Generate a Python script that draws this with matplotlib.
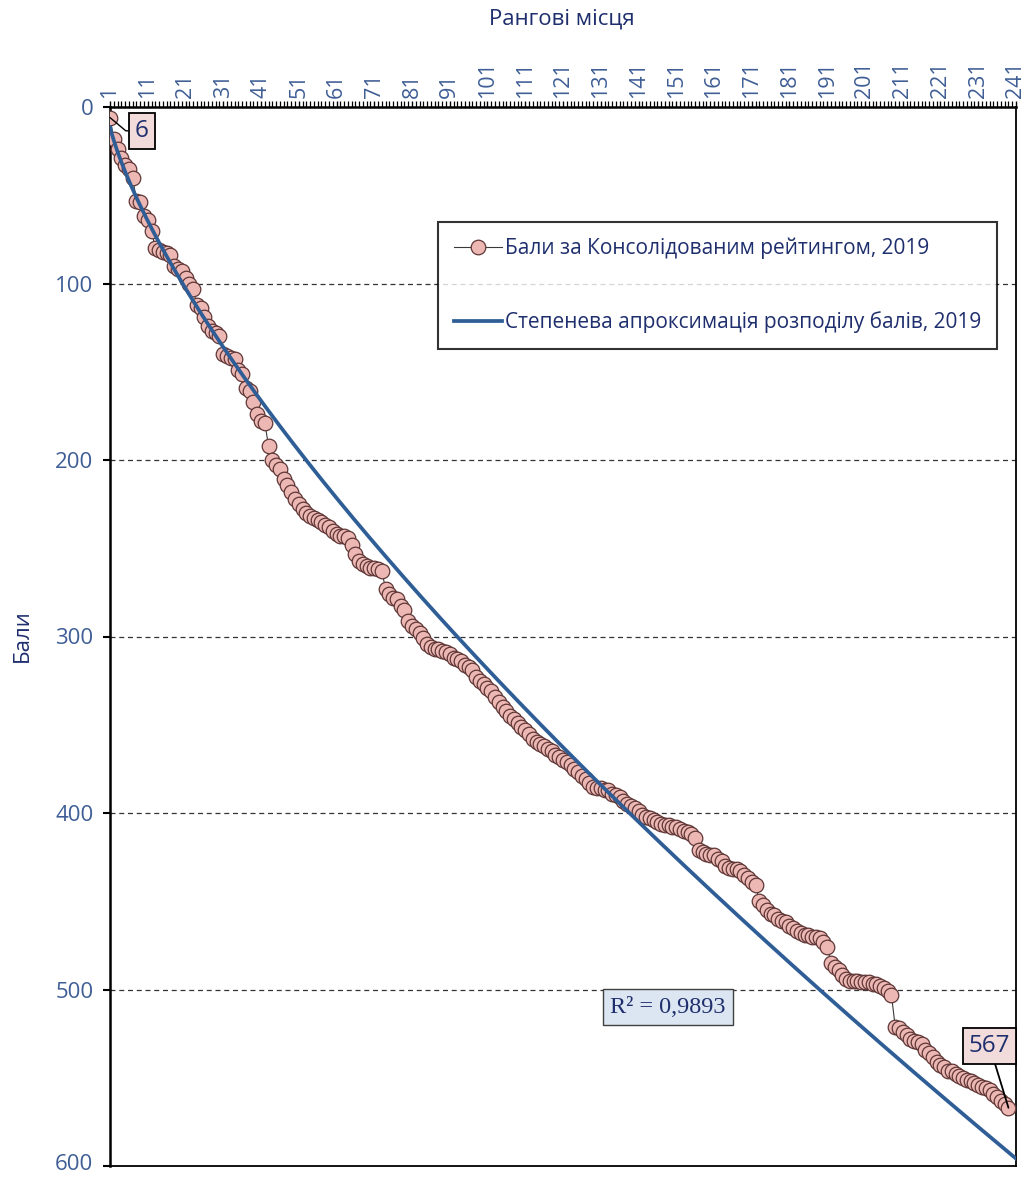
import numpy as np
import matplotlib
matplotlib.use("Agg")
import matplotlib.pyplot as plt
import matplotlib.transforms as mtransforms
from matplotlib.ticker import FixedLocator

# ---------------- data ----------------
scores = [
    6, 18, 24, 29, 33, 35, 40, 53, 54, 62,
    64, 70, 80, 81, 82, 83, 84, 90, 92, 93,
    97, 100, 103, 112, 114, 119, 124, 127, 128, 130,
    140, 141, 142, 143, 149, 151, 159, 161, 167, 174,
    178, 179, 192, 200, 203,
    205, 211, 214, 218, 222, 225, 228, 230, 232, 233,
    234, 235, 237, 238, 240, 242, 243, 243, 244, 248,
    253, 257, 259, 260, 261, 261, 262, 263, 273, 276,
    278, 279, 283, 285, 291, 294, 296, 298, 301, 304,
    306, 307, 307, 308, 309, 310, 312, 313, 314, 316,
    317, 319, 323, 325, 327, 329, 331,
    334, 337, 340, 342, 345, 347, 349, 351, 353, 355,
    358, 360, 361, 362, 364, 365, 367, 368, 370, 371,
    373, 375, 377, 379, 381, 383, 385, 386, 386, 387,
    387, 389, 390, 391, 393, 395, 396, 397, 399, 401,
    402, 403, 404, 405, 406, 407, 407, 408, 408, 409,
    410,
    411, 412, 414, 421, 422, 423, 424, 424, 426, 427,
    430, 431, 432, 432, 433, 435, 437, 439, 441, 450,
    452, 455, 457, 458, 460, 461, 462, 464, 465, 467,
    468, 469, 469, 470, 470, 471, 473, 476, 485, 487,
    489, 492, 494, 495,
    495, 495, 496, 496, 496, 497, 497, 498, 499, 501,
    503, 521, 522, 524, 526, 528, 529, 530, 531, 534,
    536, 538, 541, 543, 544, 546, 546, 548, 549, 550,
    551, 552, 553, 554, 555, 556, 557, 559, 561, 563,
    565, 567,
]
ranks = list(range(1, len(scores) + 1))
x_max_rank = 241
x_tick_labels = [str(v) for v in range(1, 242, 10)]
y_ticks = [0, 100, 200, 300, 400, 500, 600]
series_label = "Бали за Консолідованим рейтингом, 2019"
trend_label = "Степенева апроксимація розподілу балів, 2019"
r2_text = "R² = 0,9893"
x_title = "Рангові місця"
y_title = "Бали"

# ---------------- style ----------------
FONT = ["Open Sans", "DejaVu Sans"]
plt.rcParams["font.family"] = FONT
TICK_COLOR = "#3F5E95"
NAVY = "#1F2F6E"
MARKER_FILL = "#EDB8B4"
MARKER_EDGE = "#5E3636"
TREND = "#2F5E97"

W, H = 1030, 1178
fig = plt.figure(figsize=(W / 100, H / 100), dpi=100)
L, R, T, B = 110, 1016, 107, 1166
ax = fig.add_axes([L / W, 1 - B / H, (R - L) / W, (B - T) / H])

x = np.array(ranks, dtype=float)
y = np.array(scores, dtype=float)

# power trend line (least squares in log space, like Excel)
b, ln_a = np.polyfit(np.log(x), np.log(y), 1)
xt = np.linspace(1, x_max_rank, 400)
yt = np.exp(ln_a) * xt ** b

ax.plot(x, y, color="#3A3A3A", lw=0.8, marker="o", ms=10.5,
        mfc=MARKER_FILL, mec=MARKER_EDGE, mew=0.9, label=series_label, zorder=3)
ax.plot(xt, yt, color=TREND, lw=2.7, label=trend_label, zorder=4)

ax.set_xlim(1, x_max_rank)
ax.set_ylim(600, 0)

# grid lines
for gy in y_ticks[1:-1]:
    ax.axhline(gy, color="#333333", lw=0.9, ls=(0, (4, 3)), zorder=1)

# x axis on top
ax.xaxis.tick_top()
ax.xaxis.set_major_locator(FixedLocator(list(range(1, 242, 10))))
ax.xaxis.set_minor_locator(FixedLocator(list(range(1, 242))))
ax.set_xticklabels(x_tick_labels, rotation=90, fontsize=15.5, color=TICK_COLOR)
ax.tick_params(axis="x", which="both", direction="out", length=4.5, width=1.0,
               color="black", pad=2)
ax.tick_params(axis="x", which="minor", length=4.5, width=0.9)

ax.set_yticks(y_ticks)
ax.set_yticklabels([str(v) for v in y_ticks], fontsize=16, color=TICK_COLOR)
ax.tick_params(axis="y", direction="out", length=5, width=1.5, color="black", pad=7)

# nudge the bottom tick label slightly up so it stays inside the picture
last_lab = ax.yaxis.get_major_ticks()[-1].label1
last_lab.set_transform(last_lab.get_transform() +
                       mtransforms.ScaledTranslation(0, 3 / 72, fig.dpi_scale_trans))

for s in ax.spines.values():
    s.set_color("black")
    s.set_linewidth(1.3)
ax.spines["left"].set_linewidth(1.8)
ax.spines["top"].set_linewidth(1.8)

# axis titles
fig.text(562 / W, 1 - 19 / H, x_title, ha="center", va="center",
         fontsize=16, color=NAVY)
fig.text(22 / W, 1 - 636 / H, y_title, ha="center", va="center",
         rotation=90, fontsize=16, color=NAVY)

# legend
leg = ax.legend(loc="upper left", bbox_to_anchor=(438 / W, 1 - 222 / H),
                bbox_transform=fig.transFigure, fontsize=15, frameon=True,
                fancybox=False, handlelength=2.3, handletextpad=0.15,
                labelspacing=2.5, borderpad=0.75, borderaxespad=0)
leg.get_frame().set_edgecolor("black")
leg.get_frame().set_linewidth(1.5)
for t in leg.get_texts():
    t.set_color(NAVY)

# data labels
box_pink = dict(boxstyle="square,pad=0.25", fc="#F2DCDB", ec="black", lw=1.3)
ax.annotate(str(scores[0]), xy=(ranks[0], scores[0]), xytext=(9.4, 13.5),
            textcoords="data", ha="center", va="center", fontsize=17.5,
            color=NAVY, bbox=box_pink,
            arrowprops=dict(arrowstyle="-", color="black", lw=1.0,
                            shrinkA=0, shrinkB=0,
                            connectionstyle="angle,angleA=0,angleB=-40,rad=0"),
            zorder=6)
ax.annotate(str(scores[-1]), xy=(ranks[-1], scores[-1]), xytext=(234.0, 532),
            textcoords="data", ha="center", va="center", fontsize=17.5,
            color=NAVY, bbox=box_pink,
            arrowprops=dict(arrowstyle="-", color="black", lw=1.3,
                            shrinkA=0, shrinkB=0),
            zorder=6)

# R^2 label
ax.text(148.8, 510, r2_text, ha="center", va="center", fontsize=17.5,
        family=["Liberation Serif", "DejaVu Serif"], color=NAVY,
        bbox=dict(boxstyle="square,pad=0.3", fc="#DCE6F2", ec="#404040", lw=1.0),
        zorder=6)

fig.savefig("out.png", dpi=100)
